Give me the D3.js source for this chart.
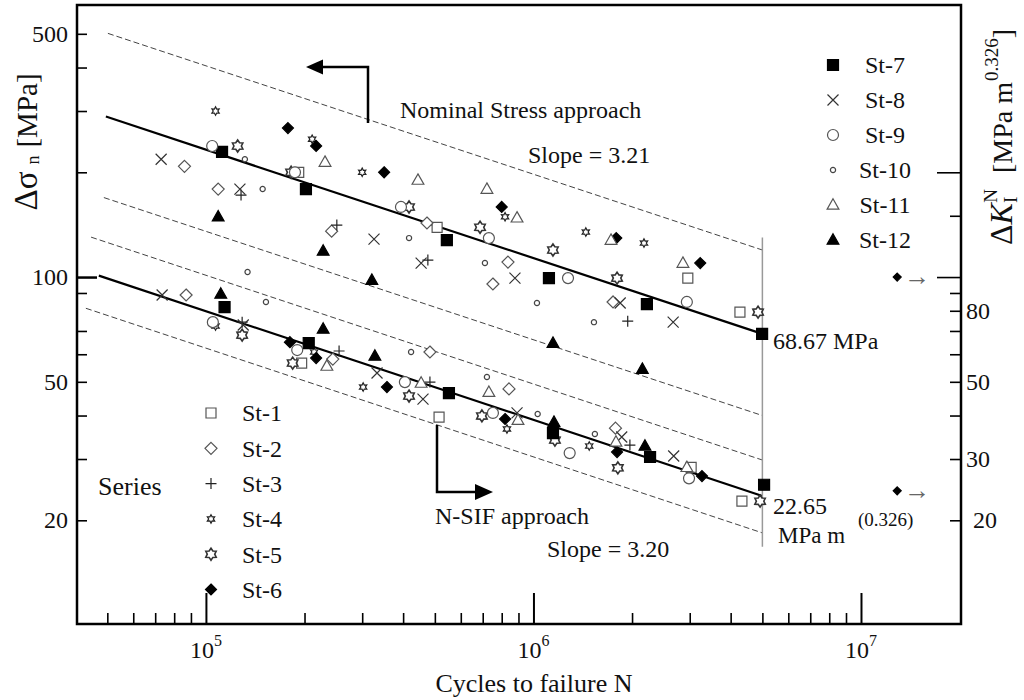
<!DOCTYPE html>
<html>
<head>
<meta charset="utf-8">
<script src="https://cdn.jsdelivr.net/npm/d3@7"></script>
<style>
  body { margin: 0; background: #fff; }
  svg text { font-family: "Liberation Serif", "Times New Roman", serif; fill: #111; }
  .tick text { font-size: 24px; }
</style>
</head>
<body>
<div class="chart"></div>
<script>
// ---- data (N = cycles, S = stress range in MPa) ----
var seriesNames = ["St-1", "St-2", "St-3", "St-4", "St-5", "St-6",
  "St-7", "St-8", "St-9", "St-10", "St-11", "St-12"];

var st1 = [[1.92e5, 200], [5.08e5, 139], [2.96e6, 99.3], [4.27e6, 79.3],
  [1.96e5, 56.6], [5.15e5, 39.6], [3.03e6, 28.4], [4.33e6, 22.7]];
var st2 = [[8.6e4, 208], [1.09e5, 179], [2.42e5, 135.5], [4.73e5, 143], [8.36e5, 110.4], [7.52e5, 95.5], [1.75e6, 84.8],
  [8.7e4, 88.8], [2.44e5, 58.1], [4.83e5, 60.9], [8.42e5, 47.7], [1.78e6, 36.8]];
var st3 = [[1.28e5, 172], [2.51e5, 141], [4.76e5, 111.9], [1.94e6, 74.7],
  [1.29e5, 74.2], [2.55e5, 61.3], [4.83e5, 49.9], [1.97e6, 32.9]];
var st4 = [[1.07e5, 300], [2.11e5, 249], [3.0e5, 200], [8.19e5, 149], [1.445e6, 134.7], [2.175e6, 125.2],
  [1.07e5, 72.3], [2.14e5, 60.9], [3.02e5, 48.3], [8.3e5, 36.6], [1.48e6, 32.7]];
var st5 = [[1.25e5, 238], [1.82e5, 200], [4.17e5, 159], [6.87e5, 139], [1.147e6, 119.6], [1.8e6, 99.3], [4.85e6, 79.3],
  [1.29e5, 68.1], [1.84e5, 56.6], [4.17e5, 45.5], [6.96e5, 39.9], [1.163e6, 34], [1.81e6, 28.3], [4.92e6, 22.7]];
var st6 = [[1.78e5, 268], [2.17e5, 238], [3.5e5, 200], [8.0e5, 159], [1.79e6, 129.4], [3.23e6, 109.7],
  [1.805e5, 65], [2.17e5, 58.5], [3.57e5, 48.3], [8.19e5, 39.1], [1.8e6, 31.4], [3.27e6, 26.8]];
var st7 = [[1.12e5, 229], [2.02e5, 179], [5.44e5, 127.7], [1.115e6, 99.3], [2.22e6, 83.6], [4.99e6, 68.67],
  [1.14e5, 82], [2.06e5, 64.6], [5.52e5, 46.4], [1.147e6, 35.6], [2.27e6, 30.4], [5.06e6, 25.3]];
var st8 = [[7.3e4, 218], [1.27e5, 179], [3.26e5, 128.5], [4.54e5, 109.7], [8.78e5, 99.3], [1.84e6, 84.2], [2.67e6, 74.2],
  [7.35e4, 88.8], [1.3e5, 72.8], [3.33e5, 53], [4.6e5, 44.6], [8.91e5, 40.7], [1.86e6, 34.7], [2.68e6, 30.6]];
var st9 = [[1.045e5, 238], [1.87e5, 200], [3.94e5, 159], [7.31e5, 129.4], [1.275e6, 99.3], [2.94e6, 84.8],
  [1.05e5, 74.2], [1.9e5, 61.7], [4.05e5, 49.9], [7.52e5, 40.7], [1.29e6, 31.2], [2.985e6, 26.4]];
var st10 = [[1.315e5, 218], [1.49e5, 179], [4.17e5, 129.4], [7.11e5, 109.7], [1.025e6, 84.2], [1.53e6, 74.2],
  [1.34e5, 103.4], [1.525e5, 84.8], [4.23e5, 60.9], [7.21e5, 51.6], [1.03e6, 40.4], [1.54e6, 35.4]];
var st11 = [[2.31e5, 214], [4.44e5, 190], [7.21e5, 179], [8.91e5, 148], [1.725e6, 127.7], [2.86e6, 109.7],
  [2.34e5, 55.5], [4.54e5, 49.6], [7.31e5, 46.7], [8.97e5, 38.8], [1.786e6, 33.6], [2.94e6, 28.4]];
var st12 = [[1.09e5, 149], [2.28e5, 118.8], [3.21e5, 98], [1.147e6, 64.6], [2.15e6, 54.4],
  [1.11e5, 89.4], [2.28e5, 70.9], [3.28e5, 59.3], [1.155e6, 38.3], [2.19e6, 32.7]];

var seriesData = [st1, st2, st3, st4, st5, st6, st7, st8, st9, st10, st11, st12];

// fitted curves: slope k, values at the end point N = 5e6 (upper band, mean, lower band)
var fitSlopes = [3.21, 3.20];
var fitEndN = 5e6;
var nominalEnds = [119.6, 68.67, 40.0];
var nominalStarts = [5.02e4, 4.95e4, 4.88e4];
var nsifEnds = [29.8, 23.5, 18.4];
var nsifStarts = [4.46e4, 4.71e4, 4.3e4];
var cutoffRange = [16.8, 130];

// run-outs drawn off the right side
var runoutN = 1.29e7;
var runoutS = [100, 24.3];

// tick values
var leftTicks = [500, 400, 300, 200, 100, 90, 70, 60, 50, 40, 30, 20];
var leftLabels = [500, 100, 50, 20];
var rightTicks = [200, 150, 100, 90, 80, 70, 60, 50, 40, 30, 20];
var rightLabels = [80, 50, 30, 20];
var bottomMajor = [1e5, 1e6, 1e7];
var bottomMinor = [5e4, 6e4, 7e4, 8e4, 9e4, 2e5, 3e5, 4e5, 5e5, 6e5, 7e5, 8e5, 9e5,
  2e6, 3e6, 4e6, 5e6, 6e6, 7e6, 8e6, 9e6];

// ---- marker styles ----
var markerShapes = ["square", "diamond", "plus", "star", "hexagram", "diamond",
  "square", "times", "circle", "circle", "triangle", "triangle"];
var markerSizes = [5, 6, 5.5, 4.2, 6, 5.5, 5.5, 5.5, 5.5, 2.6, 6.2, 6.2];
var markerFilled = [false, false, false, false, false, true, true, false, false, false, false, true];
var markerStrokes = ["#555", "#555", "#222", "#222", "#333", "#000", "#000", "#333", "#555", "#444", "#555", "#000"];

var svgWidth = 1024;
var svgHeight = 700;

var margin = { top: 5, right: 63, bottom: 76, left: 77 };
var width = svgWidth - margin.left - margin.right;
var height = svgHeight - margin.top - margin.bottom;

var svg = d3.select(".chart")
  .append("svg")
  .attr("width", svgWidth)
  .attr("height", svgHeight);

var chartGroup = svg.append("g")
  .attr("transform", `translate(${margin.left}, ${margin.top})`);

var x = d3.scaleLog().domain([4.04e4, 2.02e7]).range([0, width]);
var y = d3.scaleLog().domain([10.07, 605]).range([height, 0]);

function markerPath(shape, s) {
  if (shape === "square") return `M${-s},${-s}h${2 * s}v${2 * s}h${-2 * s}Z`;
  if (shape === "diamond") return `M0,${-s}L${s},0L0,${s}L${-s},0Z`;
  if (shape === "plus") return `M${-s},0H${s}M0,${-s}V${s}`;
  if (shape === "times") return `M${-s},${-s}L${s},${s}M${-s},${s}L${s},${-s}`;
  if (shape === "circle") return `M${s},0A${s},${s} 0 1,1 ${-s},0A${s},${s} 0 1,1 ${s},0Z`;
  if (shape === "triangle") return `M0,${-s}L${s * 0.95},${s * 0.68}L${-s * 0.95},${s * 0.68}Z`;
  // six pointed stars
  var inner = shape === "star" ? s * 0.55 : s * 0.62;
  var pts = d3.range(12).map(function (i) {
    var a = -Math.PI / 2 + i * Math.PI / 6;
    var r = i % 2 ? inner : s;
    return [r * Math.cos(a), r * Math.sin(a)];
  });
  return "M" + pts.join("L") + "Z";
}

function styleMarker(sel, i) {
  sel.attr("d", markerPath(markerShapes[i], markerSizes[i]))
    .attr("fill", markerFilled[i] ? markerStrokes[i] : (markerShapes[i] === "plus" || markerShapes[i] === "times" ? "none" : "#fff"))
    .attr("stroke", markerStrokes[i])
    .attr("stroke-width", markerShapes[i] === "hexagram" ? 1.6 : 1.2);
}

// ---- axes ----
var leftAxis = d3.axisLeft(y)
  .tickValues(leftTicks)
  .tickSize(-10)
  .tickSizeOuter(0)
  .tickPadding(9)
  .tickFormat(d => leftLabels.includes(d) ? d : "");

var leftG = chartGroup.append("g").call(leftAxis);
leftG.select(".domain").remove();
leftG.selectAll(".tick line").attr("stroke-width", 1.6)
  .filter(d => d === 100).attr("x2", 20).attr("stroke-width", 2.5);

var rightAxis = d3.axisRight(y)
  .tickValues(rightTicks)
  .tickSize(-11)
  .tickSizeOuter(0)
  .tickPadding(5)
  .tickFormat(d => rightLabels.includes(d) ? d : "");

var rightG = chartGroup.append("g")
  .attr("transform", `translate(${width}, 0)`)
  .call(rightAxis);
rightG.select(".domain").remove();
rightG.selectAll(".tick line").attr("stroke-width", 1.6)
  .filter(d => d === 100 || d === 200).attr("x2", -24);
rightG.selectAll(".tick text").filter(d => d === 20).attr("dx", 7);

var bottomAxis = d3.axisBottom(x)
  .tickValues(bottomMinor.concat(bottomMajor))
  .tickSize(-11)
  .tickSizeOuter(0)
  .tickFormat("");

var bottomG = chartGroup.append("g")
  .attr("transform", `translate(0, ${height})`)
  .call(bottomAxis);
bottomG.select(".domain").remove();
bottomG.selectAll(".tick line").attr("stroke-width", 1.6)
  .filter(d => bottomMajor.includes(d)).attr("y2", -31).attr("stroke-width", 2);

// decade labels 10^n
bottomMajor.forEach(function (d) {
  var t = chartGroup.append("text")
    .attr("x", x(d))
    .attr("y", height + 34)
    .attr("text-anchor", "middle")
    .attr("font-size", "24px");
  t.append("tspan").text("10");
  t.append("tspan").attr("font-size", "16px").attr("dy", -12).text(Math.round(Math.log10(d)));
});

// frame
chartGroup.append("rect")
  .attr("width", width)
  .attr("height", height)
  .attr("fill", "none")
  .attr("stroke", "#000")
  .attr("stroke-width", 2.5);

// ---- fitted lines ----
function fitLine(k, sEnd, nStart) {
  var sStart = sEnd * Math.pow(nStart / fitEndN, -1 / k);
  return [[nStart, sStart], [fitEndN, sEnd]];
}

var lineGen = d3.line().x(d => x(d[0])).y(d => y(d[1]));

var fitGroup = chartGroup.append("g");
nominalEnds.forEach(function (s, i) {
  fitGroup.append("path")
    .attr("d", lineGen(fitLine(fitSlopes[0], s, nominalStarts[i])))
    .attr("fill", "none")
    .attr("stroke", i === 1 ? "#000" : "#444")
    .attr("stroke-width", i === 1 ? 2.2 : 1)
    .attr("stroke-dasharray", i === 1 ? null : "6,3");
});
nsifEnds.forEach(function (s, i) {
  fitGroup.append("path")
    .attr("d", lineGen(fitLine(fitSlopes[1], s, nsifStarts[i])))
    .attr("fill", "none")
    .attr("stroke", i === 1 ? "#000" : "#444")
    .attr("stroke-width", i === 1 ? 2.2 : 1)
    .attr("stroke-dasharray", i === 1 ? null : "6,3");
});

// 5e6 cut-off
fitGroup.append("line")
  .attr("x1", x(fitEndN)).attr("x2", x(fitEndN))
  .attr("y1", y(cutoffRange[1])).attr("y2", y(cutoffRange[0]))
  .attr("stroke", "#999")
  .attr("stroke-width", 1.5);

// ---- data points ----
seriesData.forEach(function (data, i) {
  chartGroup.append("g")
    .selectAll("path")
    .data(data)
    .enter()
    .append("path")
    .attr("transform", d => `translate(${x(d[0])}, ${y(d[1])})`)
    .call(styleMarker, i);
});

// run-outs beyond the axis range
runoutS.forEach(function (s) {
  chartGroup.append("path")
    .attr("transform", `translate(${x(runoutN)}, ${y(s)})`)
    .call(styleMarker, 5)
    .attr("d", markerPath("diamond", 4));
  chartGroup.append("text")
    .attr("x", x(runoutN) + 7)
    .attr("y", y(s))
    .attr("dy", "0.32em")
    .attr("font-size", "26px")
    .style("fill", "#666")
    .text("→");
});

// ---- legends ----
seriesNames.forEach(function (name, i) {
  var left = i < 6;
  var row = left ? i : i - 6;
  var my = left ? 413 + row * 35.3 : 65 + row * 35;
  var mx = left ? 211 : 833;
  svg.append("path")
    .attr("transform", `translate(${mx}, ${my})`)
    .call(styleMarker, i);
  svg.append("text")
    .attr("x", left ? 242 : 885)
    .attr("y", my)
    .attr("dy", "0.35em")
    .attr("text-anchor", left ? "start" : "middle")
    .attr("font-size", "24px")
    .text(name);
});

svg.append("text").attr("x", 98).attr("y", 495).attr("font-size", "26px").text("Series");

// ---- annotations ----
svg.append("text").attr("x", 400).attr("y", 118).attr("font-size", "24px").text("Nominal Stress approach");
svg.append("text").attr("x", 528).attr("y", 163).attr("font-size", "24px").text("Slope = 3.21");
svg.append("text").attr("x", 435).attr("y", 524).attr("font-size", "24px").text("N-SIF approach");
svg.append("text").attr("x", 547).attr("y", 557).attr("font-size", "24px").text("Slope = 3.20");
svg.append("text").attr("x", 773).attr("y", 349).attr("font-size", "24px").text("68.67 MPa");
svg.append("text").attr("x", 773).attr("y", 514).attr("font-size", "24px").text("22.65");
svg.append("text").attr("x", 778).attr("y", 543).attr("font-size", "23px").text("MPa m");
svg.append("text").attr("x", 858).attr("y", 526).attr("font-size", "19px").text("(0.326)");

// approach arrows
svg.append("path")
  .attr("d", "M368,123V67H318")
  .attr("fill", "none").attr("stroke", "#000").attr("stroke-width", 2.5);
svg.append("path")
  .attr("d", "M306,67L323,59.5V74.5Z")
  .attr("fill", "#000");
svg.append("path")
  .attr("d", "M437,425V492H478")
  .attr("fill", "none").attr("stroke", "#000").attr("stroke-width", 2.5);
svg.append("path")
  .attr("d", "M493,492L475,484V500Z")
  .attr("fill", "#000");

// ---- axis titles ----
var yTitle = svg.append("text")
  .attr("transform", "translate(37, 142) rotate(-90)")
  .attr("text-anchor", "middle")
  .attr("font-size", "29px");
yTitle.append("tspan").attr("font-size", "33px").text("Δσ");
yTitle.append("tspan").attr("font-size", "18px").attr("dx", 7).attr("dy", 2).text("n");
yTitle.append("tspan").attr("dx", 8).attr("dy", -2).text("[MPa]");

var rTitle = svg.append("text")
  .attr("transform", "translate(1012, 137) rotate(-90)")
  .attr("text-anchor", "middle")
  .attr("font-size", "32px");
rTitle.append("tspan").text("Δ");
rTitle.append("tspan").attr("font-style", "italic").text("K");
rTitle.append("tspan").attr("font-size", "19px").attr("dy", 5).text("I");
rTitle.append("tspan").attr("font-size", "19px").attr("dx", -6).attr("dy", -20).text("N");
rTitle.append("tspan").attr("font-size", "28px").attr("dx", 16).attr("dy", 15).text("[MPa m");
rTitle.append("tspan").attr("font-size", "19px").attr("dx", 1).attr("dy", -14).text("0.326");
rTitle.append("tspan").attr("font-size", "28px").attr("dy", 14).text("]");

svg.append("text")
  .attr("x", 534)
  .attr("y", 692)
  .attr("text-anchor", "middle")
  .attr("font-size", "26px")
  .text("Cycles to failure N");
</script>
</body>
</html>
